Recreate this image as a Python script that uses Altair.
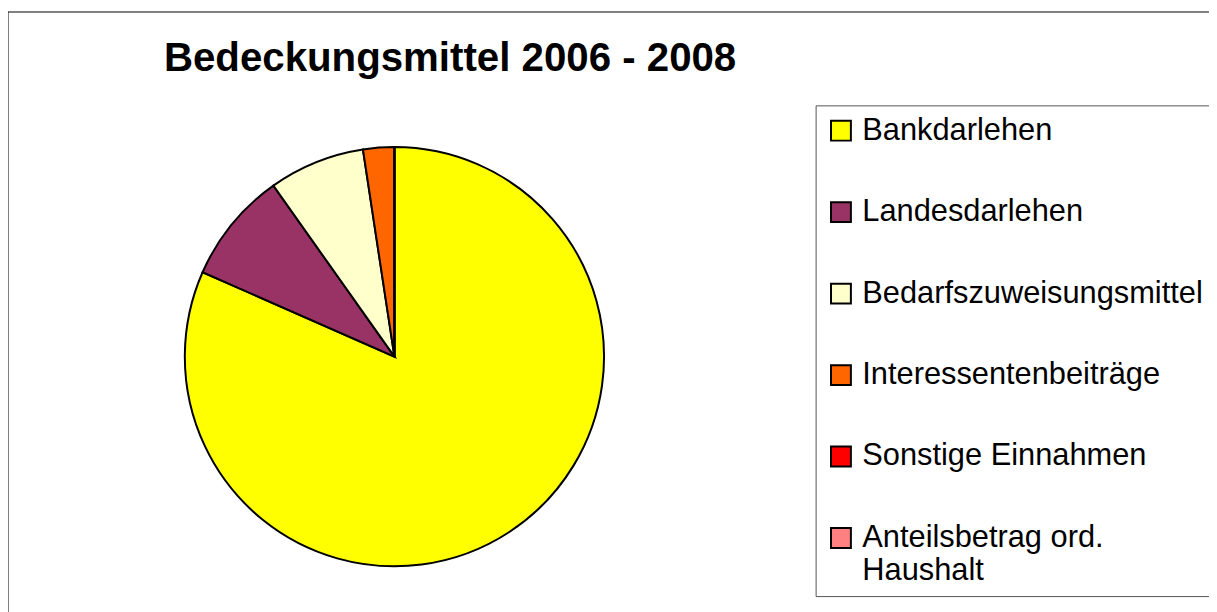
import altair as alt
import pandas as pd

title_text = ["Bedeckungsmittel 2006 - 2008"]
categories = ["Bankdarlehen", "Landesdarlehen", "Bedarfszuweisungsmittel",
              "Interessentenbeiträge", "Sonstige Einnahmen", "Anteilsbetrag ord. Haushalt"]
values = [81.6, 8.6, 7.4, 2.4, 0.0, 0.0]
colors = ["#FFFF00", "#993366", "#FFFFCC", "#FF6600", "#FF0000", "#FF8080"]

df = pd.DataFrame({"Kategorie": categories, "Wert": values, "Ordnung": list(range(len(categories)))})

label_expr = ("datum.label == 'Anteilsbetrag ord. Haushalt' ? "
              "['Anteilsbetrag ord.', 'Haushalt'] : datum.label")

frame = alt.Chart(pd.DataFrame({"f": [0]})).mark_rect(
    fill="transparent", stroke="black", strokeWidth=1
).encode(
    x=alt.value(0), x2=alt.value(1400), y=alt.value(0), y2=alt.value(800)
)

title = alt.Chart(pd.DataFrame({"t": title_text})).mark_text(
    align="left", baseline="alphabetic", font="Liberation Sans",
    fontSize=40.5, fontWeight="bold", color="black"
).encode(text="t:N", x=alt.value(157), y=alt.value(59))

pie = alt.Chart(df).mark_arc(
    radius=211, x=389, y=347, stroke="black", strokeWidth=2
).encode(
    theta=alt.Theta("Wert:Q", stack=True),
    color=alt.Color(
        "Kategorie:N",
        scale=alt.Scale(domain=categories, range=colors),
        sort=categories,
        legend=alt.Legend(
            title=None,
            orient="none",
            legendX=813,
            legendY=94,
            symbolType="square",
            symbolSize=400,
            symbolStrokeColor="black",
            symbolStrokeWidth=2,
            labelFont="Liberation Sans",
            labelFontSize=31,
            labelColor="black",
            labelLimit=600,
            labelOffset=6,
            labelExpr=label_expr,
            rowPadding=50,
            padding=10,
            strokeColor="#555555",
            fillColor="white",
        ),
    ),
    order=alt.Order("Ordnung:Q"),
)

chart = alt.layer(frame, pie, title).properties(
    width=1209,
    height=602,
    autosize=alt.AutoSizeParams(type="none"),
    padding={"left": 0, "top": 2, "right": 0, "bottom": 0},
).configure_view(stroke=None)

chart.save("out.html", embed_options={"renderer": "svg", "actions": False})
